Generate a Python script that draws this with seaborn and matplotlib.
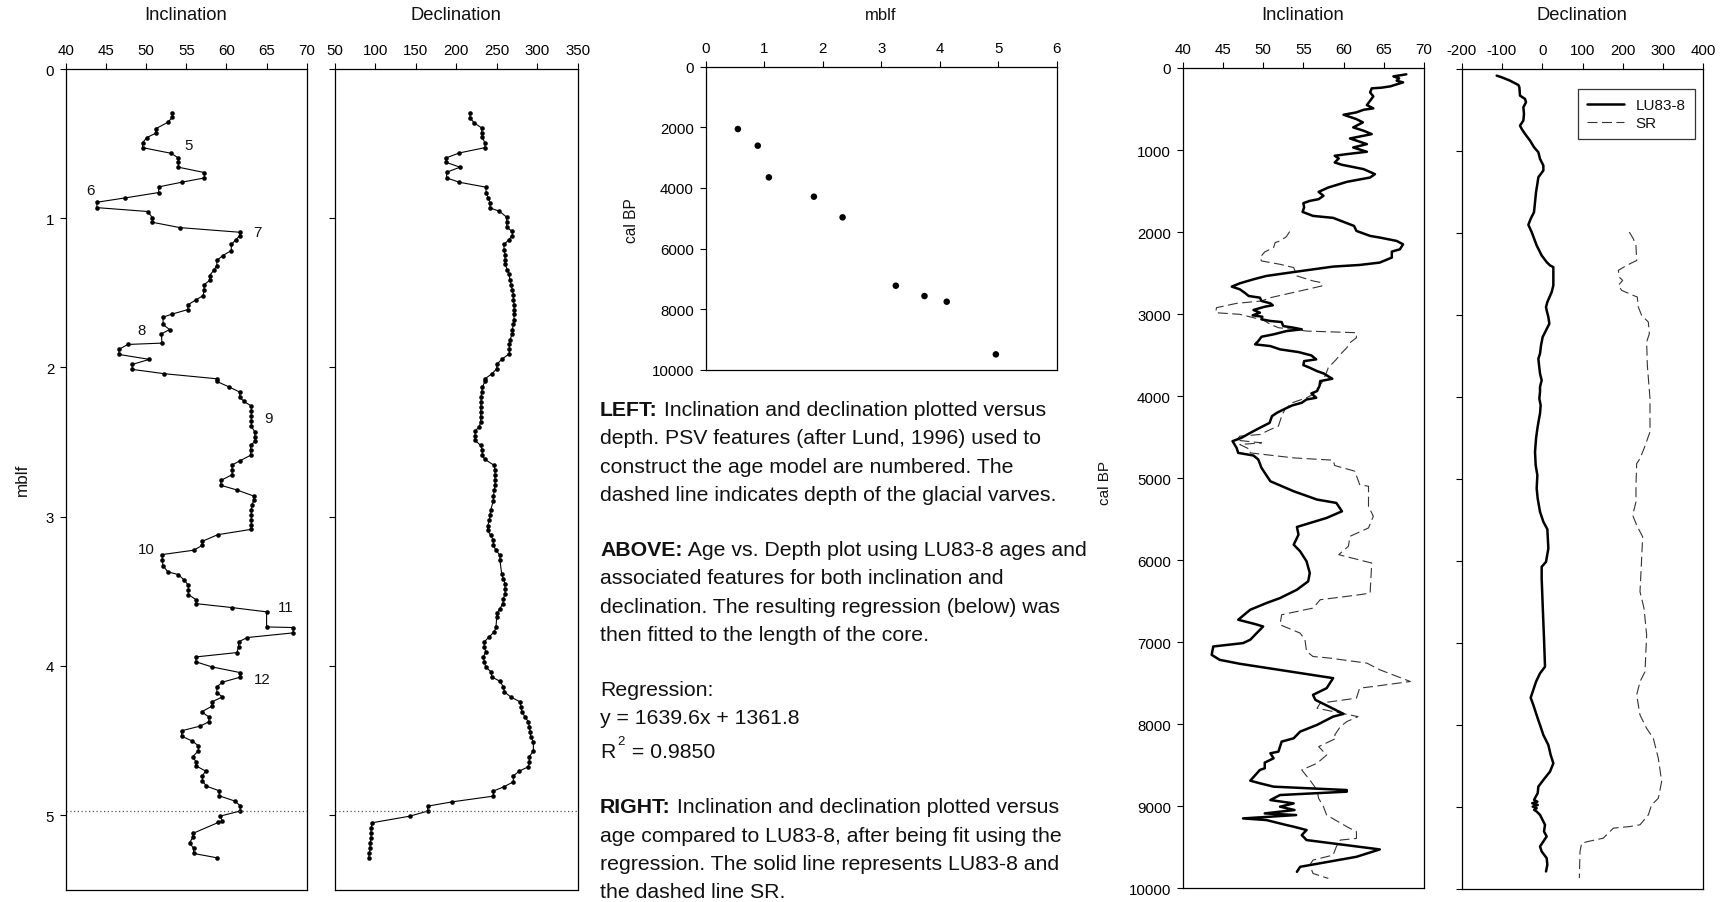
import matplotlib
matplotlib.use("Agg")
import matplotlib.pyplot as plt
from matplotlib.lines import Line2D
import seaborn as sns
import pandas as pd

# ---------------- data ----------------
# LEFT: inclination vs depth (mblf)
depth_incl = [0.295, 0.324, 0.357, 0.40, 0.43, 0.46, 0.495, 0.527, 0.565, 0.596, 0.625, 0.658, 0.694, 0.73,
              0.759, 0.79, 0.828, 0.864, 0.893, 0.929, 0.955, 0.996, 1.027, 1.063, 1.094, 1.116, 1.143, 1.176,
              1.217, 1.25, 1.283, 1.317, 1.35, 1.384, 1.417, 1.446, 1.484, 1.518, 1.547, 1.58, 1.612, 1.643,
              1.663, 1.712, 1.746, 1.775, 1.837, 1.846, 1.879, 1.913, 1.946, 1.98, 2.013, 2.042, 2.076, 2.094,
              2.13, 2.165, 2.199, 2.228, 2.259, 2.292, 2.326, 2.36, 2.393, 2.43, 2.464, 2.496, 2.522, 2.556,
              2.589, 2.625, 2.654, 2.688, 2.719, 2.757, 2.79, 2.821, 2.862, 2.891, 2.92, 2.953, 2.987, 3.022,
              3.054, 3.085, 3.121, 3.165, 3.192, 3.225, 3.254, 3.292, 3.33, 3.37, 3.388, 3.426, 3.46, 3.493,
              3.522, 3.556, 3.583, 3.609, 3.638, 3.739, 3.743, 3.779, 3.810, 3.839, 3.873, 3.911, 3.94, 3.973,
              4.007, 4.045, 4.076, 4.109, 4.141, 4.179, 4.208, 4.241, 4.27, 4.308, 4.342, 4.375, 4.404, 4.435,
              4.471, 4.504, 4.536, 4.569, 4.609, 4.643, 4.670, 4.705, 4.737, 4.770, 4.806, 4.837, 4.871, 4.906,
              4.937, 4.973, 5.007, 5.04, 5.049, 5.123, 5.15, 5.185, 5.223, 5.257, 5.286]
incl_values = [53.25, 53.25, 52.7, 51.2, 51.2, 50.05, 49.55, 49.55, 53.1, 54.0, 54.0, 54.0, 57.25, 57.25,
               54.4, 51.55, 51.55, 47.35, 43.85, 43.85, 50.2, 50.75, 50.75, 54.2, 61.65, 61.65, 61.2, 60.6,
               60.6, 59.55, 58.8, 58.8, 58.4, 57.9, 57.9, 57.2, 57.2, 57.1, 56.2, 55.2, 55.2, 53.2,
               52.1, 52.1, 52.9, 51.9, 51.95, 47.7, 46.6, 46.6, 50.4, 48.25, 48.25, 52.25, 58.8, 58.8,
               60.3, 61.65, 61.65, 62.2, 63.1, 63.1, 63.1, 63.1, 63.1, 63.5, 63.55, 63.55, 63.0, 63.0,
               63.0, 61.7, 60.7, 60.7, 60.7, 59.3, 59.3, 61.3, 63.4, 63.4, 63.2, 63.1, 63.1, 63.1,
               63.1, 63.1, 58.9, 57.0, 57.0, 55.9, 52.0, 52.0, 52.1, 52.7, 54.0, 54.75, 55.25, 55.25,
               55.25, 56.2, 56.2, 60.65, 65.0, 65.0, 68.3, 68.3, 62.6, 61.5, 61.5, 61.3, 56.2, 56.2,
               58.2, 61.7, 61.7, 59.5, 58.8, 58.8, 59.5, 58.2, 58.2, 56.9, 57.8, 57.8, 56.7, 54.4,
               54.4, 55.75, 56.5, 56.5, 55.8, 56.2, 56.2, 57.4, 57.0, 57.0, 57.5, 59.1, 59.1, 61.05,
               61.7, 61.7, 59.2, 59.5, 59.0, 55.8, 55.8, 55.4, 55.9, 55.9, 58.8]

# LEFT: declination vs depth (mblf)
depth_decl = [0.295, 0.328, 0.362, 0.395, 0.429, 0.458, 0.496, 0.527, 0.5625, 0.596, 0.625, 0.658, 0.692, 0.73,
              0.759, 0.792, 0.83, 0.864, 0.897, 0.931, 0.953, 0.993, 1.027, 1.06, 1.089, 1.116, 1.143, 1.176,
              1.21, 1.246, 1.277, 1.31, 1.344, 1.377, 1.413, 1.446, 1.48, 1.513, 1.547, 1.58, 1.612, 1.645,
              1.679, 1.712, 1.746, 1.777, 1.813, 1.844, 1.875, 1.908, 1.946, 1.98, 2.009, 2.042, 2.076, 2.094,
              2.132, 2.165, 2.199, 2.232, 2.266, 2.299, 2.333, 2.366, 2.4, 2.426, 2.46, 2.489, 2.522, 2.556,
              2.589, 2.616, 2.656, 2.69, 2.723, 2.757, 2.79, 2.824, 2.862, 2.893, 2.958, 2.991, 3.025, 3.062,
              3.092, 3.125, 3.158, 3.192, 3.225, 3.259, 3.292, 3.382, 3.415, 3.449, 3.482, 3.516, 3.549, 3.583,
              3.616, 3.643, 3.672, 3.739, 3.772, 3.806, 3.839, 3.873, 3.906, 3.94, 3.973, 4.007, 4.04, 4.074,
              4.103, 4.141, 4.174, 4.208, 4.241, 4.275, 4.308, 4.342, 4.375, 4.408, 4.442, 4.475, 4.509, 4.569,
              4.609, 4.643, 4.676, 4.705, 4.737, 4.777, 4.810, 4.839, 4.873, 4.911, 4.940, 4.973, 5.007, 5.051,
              5.089, 5.123, 5.156, 5.19, 5.223, 5.257, 5.286]
decl_values = [216.9, 216.9, 222.3, 231.3, 231.3, 232.1, 235.4, 235.4, 203.7, 187.2, 187.2, 204.5, 188.0, 188.0,
               203.7, 236.7, 236.7, 239.6, 241.6, 241.6, 253.2, 262.2, 262.2, 262.2, 269.2, 269.2, 265.1, 258.9,
               258.9, 260.2, 260.2, 260.2, 263.0, 265.1, 266.3, 267.6, 269.2, 270.5, 270.5, 271.3, 271.3, 271.3,
               271.3, 270.5, 269.2, 269.2, 266.3, 265.5, 265.5, 265.5, 256.0, 249.9, 249.9, 244.1, 235.4, 235.4,
               232.1, 231.3, 230.5, 230.5, 230.1, 230.1, 230.1, 230.1, 228.0, 223.1, 223.1, 223.1, 230.1, 232.1,
               232.1, 235.4, 246.6, 247.8, 247.8, 247.8, 247.8, 247.0, 245.7, 245.7, 242.4, 241.6, 240.8, 238.7,
               238.7, 242.4, 245.7, 245.7, 249.0, 253.9, 253.9, 256.0, 258.1, 260.2, 260.2, 260.2, 258.1, 257.3,
               253.9, 250.7, 249.9, 249.0, 247.0, 240.4, 234.6, 234.6, 236.3, 233.4, 234.6, 236.3, 242.9, 243.7,
               253.9, 258.1, 259.3, 267.2, 278.7, 279.9, 280.8, 284.9, 289.0, 290.2, 291.1, 291.9, 295.2, 295.2,
               290.2, 290.2, 289.0, 277.9, 270.5, 270.5, 258.9, 245.7, 245.7, 195.1, 164.6, 164.6, 142.7, 96.2,
               94.5, 94.5, 94.5, 93.3, 93.3, 92.4, 91.6]

VARVE_DEPTH = 4.97
feature_labels = ["5", "6", "7", "8", "9", "10", "11", "12"]
feature_incl = [55.25, 43.0, 63.8, 49.4, 65.3, 50.05, 67.4, 64.5]
feature_depth = [0.51, 0.81, 1.09, 1.75, 2.34, 3.22, 3.605, 4.09]

# ABOVE: age vs depth tie points
core_depth = [0.55, 0.89, 1.08, 1.85, 2.34, 3.25, 3.74, 4.12, 4.96]
core_age = [2057, 2607, 3652, 4290, 4972, 7228, 7569, 7756, 9494]

# RIGHT: inclination vs age
lu_inc_age = [77, 102, 126, 155, 175, 224, 240, 248, 297, 346, 399, 452, 492, 509, 541, 570, 623, 663, 724, 765,
              806, 859, 928, 969, 1021, 1050, 1070, 1103, 1152, 1180, 1233, 1294, 1335, 1388, 1457, 1510, 1558,
              1599, 1620, 1648, 1701, 1754, 1803, 1827, 1892, 1925, 1986, 2047, 2067, 2108, 2149, 2210, 2238,
              2311, 2372, 2401, 2421, 2482, 2535, 2576, 2625, 2665, 2698, 2739, 2779, 2800, 2840, 2869, 2893,
              2910, 2950, 2983, 3015, 3032, 3064, 3084, 3097, 3146, 3166, 3186, 3207, 3247, 3276, 3329, 3369,
              3390, 3430, 3463, 3504, 3552, 3573, 3622, 3654, 3695, 3723, 3788, 3817, 3878, 3939, 3967, 4020,
              4041, 4081, 4114, 4155, 4204, 4244, 4326, 4386, 4448, 4509, 4549, 4631, 4692, 4724, 4773, 4875,
              5038, 5160, 5261, 5302, 5404, 5485, 5595, 5689, 5811, 5892, 6014, 6157, 6258, 6360, 6462, 6523,
              6604, 6726, 6779, 6808, 6869, 6970, 7011, 7052, 7154, 7215, 7263, 7438, 7560, 7642, 7703, 7874,
              7907, 8008, 8090, 8171, 8212, 8334, 8354, 8415, 8468, 8537, 8557, 8688, 8720, 8761, 8802, 8822,
              8863, 8924, 8965, 9005, 9046, 9087, 9107, 9148, 9168, 9229, 9249, 9290, 9351, 9412, 9526, 9616,
              9738, 9799]
lu_inc = [67.8, 66.2, 66.9, 66.6, 67.4, 65.8, 64.7, 63.5, 63.3, 63.7, 63.3, 62.9, 63.7, 62.5, 61.6, 60.0, 61.6,
          62.4, 61.2, 62.5, 63.5, 60.8, 62.9, 61.2, 62.9, 60.4, 58.9, 59.4, 58.9, 59.8, 62.5, 63.9, 63.3, 60.4,
          58.1, 56.9, 57.5, 56.9, 55.8, 55.0, 55.1, 54.9, 56.2, 58.7, 60.4, 61.3, 61.6, 63.3, 64.5, 66.6, 67.4,
          67.0, 66.0, 66.0, 64.5, 62.0, 58.7, 54.2, 50.4, 48.8, 47.1, 46.1, 47.1, 47.7, 48.2, 49.6, 49.8, 50.9,
          51.2, 50.2, 48.8, 49.6, 48.7, 49.9, 49.8, 50.9, 52.3, 52.5, 53.8, 54.8, 52.9, 51.3, 49.8, 49.4, 49.0,
          50.9, 52.1, 54.4, 56.0, 56.6, 55.1, 55.0, 55.8, 56.7, 57.5, 58.6, 57.1, 57.0, 56.7, 56.0, 56.6, 55.4,
          54.8, 53.6, 52.7, 51.7, 51.1, 50.8, 49.6, 48.4, 47.3, 46.2, 46.7, 46.9, 48.8, 49.4, 49.8, 50.9, 53.8,
          56.7, 59.1, 59.8, 57.9, 54.2, 54.4, 53.8, 54.6, 55.4, 55.8, 55.6, 54.2, 52.1, 50.4, 48.4, 46.9, 49.0,
          50.0, 49.4, 48.4, 47.5, 43.8, 43.6, 44.6, 47.1, 58.7, 57.9, 56.2, 56.5, 60.0, 58.7, 56.7, 54.6, 53.8,
          52.3, 51.9, 50.9, 51.3, 50.2, 50.2, 49.6, 48.4, 49.6, 51.3, 60.4, 60.4, 52.1, 50.9, 53.8, 52.1, 53.9,
          50.2, 54.1, 47.5, 50.4, 52.9, 53.8, 55.4, 54.8, 55.4, 64.5, 61.6, 54.6, 54.2]

sr_inc_age = [1994, 2055, 2108, 2128, 2189, 2242, 2311, 2352, 2393, 2433, 2535, 2596, 2617, 2657, 2718, 2800,
              2840, 2869, 2922, 2983, 3003, 3044, 3072, 3125, 3166, 3186, 3207, 3227, 3288, 3349, 3410, 3491,
              3552, 3654, 3756, 3837, 3980, 4020, 4081, 4163, 4244, 4366, 4407, 4468, 4488, 4537, 4570, 4590,
              4651, 4692, 4753, 4781, 4846, 4915, 5078, 5099, 5343, 5465, 5607, 5709, 5831, 5933, 6035, 6401,
              6421, 6482, 6584, 6665, 6787, 6889, 6970, 7112, 7174, 7194, 7255, 7336, 7479, 7540, 7560, 7682,
              7743, 7805, 7907, 7968, 8029, 8131, 8171, 8273, 8375, 8476, 8557, 8679, 8802, 8903, 9005, 9107,
              9249, 9310, 9392, 9412, 9493, 9595, 9656, 9717, 9819, 9880]
sr_inc = [53.3, 52.9, 52.1, 51.5, 51.3, 50.2, 49.6, 49.8, 52.1, 53.8, 54.2, 56.2, 57.3, 57.3, 54.6, 50.9, 49.8,
          46.7, 44.2, 44.1, 47.1, 48.8, 50.0, 50.9, 51.9, 53.8, 55.4, 61.6, 61.6, 60.8, 60.4, 59.6, 59.1, 58.1,
          57.7, 57.3, 56.2, 55.4, 53.6, 52.7, 52.3, 51.9, 50.9, 49.6, 47.1, 46.7, 49.8, 47.1, 48.4, 48.4, 53.8,
          58.7, 58.9, 61.4, 62.0, 63.1, 63.1, 63.7, 63.1, 60.8, 60.6, 59.4, 63.5, 63.3, 62.0, 57.1, 56.2, 52.3,
          52.1, 54.6, 55.2, 55.4, 56.2, 58.3, 62.9, 64.5, 68.3, 63.7, 62.0, 61.6, 57.1, 56.7, 61.8, 60.4, 59.6,
          58.9, 59.1, 56.9, 57.9, 56.7, 54.8, 55.8, 56.7, 56.9, 57.5, 57.9, 60.4, 61.6, 61.6, 59.6, 59.1, 58.7,
          56.2, 55.8, 56.2, 58.1]

# RIGHT: declination vs age
lu_dec_age = [81, 101, 142, 195, 223, 325, 365, 406, 467, 548, 629, 690, 731, 792, 873, 954, 1015, 1096, 1177,
              1238, 1320, 1401, 1502, 1624, 1746, 1827, 1900, 1989, 2152, 2274, 2355, 2395, 2416, 2639, 2720,
              2842, 2903, 2944, 3025, 3106, 3187, 3268, 3370, 3471, 3532, 3613, 3715, 3796, 3877, 3938, 4019,
              4101, 4202, 4263, 4385, 4507, 4669, 4832, 4953, 5116, 5238, 5400, 5522, 5612, 5847, 6010, 6071,
              6213, 6538, 6944, 7289, 7370, 7472, 7667, 7756, 7918, 8000, 8122, 8244, 8366, 8467, 8568, 8670,
              8751, 8832, 8913, 8935, 8954, 8975, 8995, 9014, 9035, 9055, 9096, 9136, 9217, 9298, 9359, 9420,
              9481, 9542, 9623, 9704, 9786]
lu_dec = [-113.1, -100.7, -80.0, -59.3, -56.8, -55.2, -42.7, -40.3, -46.9, -45.3, -46.9, -55.2, -51.0, -42.7,
          -30.3, -20.4, -9.6, -5.5, 2.8, 2.8, -9.6, -12.1, -15.4, -17.9, -20.4, -28.7, -34.5, -26.2, -13.8,
          -1.4, 11.0, 19.3, 27.6, 27.6, 23.5, 12.7, 9.4, 11.0, 15.2, 17.7, 9.4, 1.1, -3.0, -5.5, -9.6, -7.9,
          -5.5, -1.4, -5.5, -5.5, -7.2, -3.9, -5.5, -7.9, -12.1, -15.4, -17.9, -16.3, -12.1, -13.8, -11.3, -5.5,
          2.8, 12.7, 15.2, 9.4, -1.4, -1.4, 1.1, 4.4, 6.9, -5.5, -15.4, -28.7, -22.1, -11.3, -5.5, 2.8, 15.2,
          21.0, 27.6, 19.3, 2.8, -9.6, -11.3, -20.4, -12.0, -25.0, -11.0, -23.7, -13.8, -20.0, -13.8, -5.5,
          -1.4, 6.9, 4.4, 11.0, 2.8, -5.5, -1.4, 11.0, 12.7, 9.4]

sr_dec_age = [1989, 2071, 2152, 2335, 2395, 2456, 2538, 2578, 2639, 2700, 2761, 2781, 2903, 3004, 3086, 3228,
              3329, 3613, 4019, 4425, 4608, 4751, 4812, 5076, 5279, 5441, 5563, 5705, 5969, 6375, 6578, 6903,
              7350, 7472, 7634, 7878, 8041, 8163, 8406, 8690, 8893, 8974, 9096, 9217, 9238, 9258, 9319, 9380,
              9420, 9441, 9542, 9867]
sr_dec = [216.3, 226.2, 232.8, 234.5, 209.7, 189.0, 191.5, 199.7, 189.0, 197.3, 226.2, 236.1, 238.6, 246.9,
          263.5, 266.0, 259.3, 261.0, 267.6, 267.6, 254.4, 242.8, 234.5, 232.8, 232.8, 224.6, 234.5, 249.4,
          246.9, 242.8, 252.8, 259.3, 255.2, 242.8, 234.5, 242.8, 259.3, 275.9, 288.3, 296.6, 288.3, 271.7,
          263.5, 242.8, 217.9, 176.6, 164.1, 151.7, 114.5, 97.9, 93.8, 92.1]

# ---------------- style ----------------
sns.set_theme(style="ticks")
plt.rcParams["font.family"] = ["Liberation Sans", "DejaVu Sans"]
plt.rcParams.update({
    "axes.edgecolor": "black",
    "axes.linewidth": 0.9,
    "xtick.color": "black",
    "ytick.color": "black",
    "text.color": "#111111",
    "axes.unicode_minus": False,
})

W, H = 1726, 903
fig = plt.figure(figsize=(W / 100, H / 100), dpi=100)


def rect(x0, x1, y0, y1):
    return [x0 / W, 1 - y1 / H, (x1 - x0) / W, (y1 - y0) / H]


def style_axis(ax, show_ylabels=True):
    ax.xaxis.tick_top()
    ax.xaxis.set_label_position("top")
    ax.tick_params(axis="both", direction="out", length=4.5, width=0.8, labelsize=10.8, pad=4,
                   colors="black")
    ax.tick_params(axis="x", bottom=False, top=True)
    if not show_ylabels:
        ax.tick_params(axis="y", labelleft=False)
    for s in ax.spines.values():
        s.set_visible(True)
        s.set_color("black")
        s.set_linewidth(0.9)
    ax.set_xlabel("")
    ax.set_ylabel("")
    ax.grid(False)


TICK = 10.8
TITLE = 13.2

# ---- Left inclination ----
ax1 = fig.add_axes(rect(66, 306.7, 70, 890.7))
df1 = pd.DataFrame({"depth": depth_incl, "incl": incl_values})
sns.lineplot(data=df1, x="incl", y="depth", sort=False, estimator=None, ax=ax1, color="black",
             linewidth=0.8, marker="o", markersize=3.3, markeredgewidth=0)
ax1.axhline(VARVE_DEPTH, color="#555555", linestyle=(0, (1, 2)), linewidth=0.9)
for lab, xi, yi in zip(feature_labels, feature_incl, feature_depth):
    ax1.text(xi, yi, lab, fontsize=TICK, ha="center", va="center")
ax1.set_xlim(40, 70)
ax1.set_ylim(5.5, 0)
ax1.set_xticks(range(40, 71, 5))
ax1.set_yticks(range(0, 6))
style_axis(ax1)

# ---- Left declination ----
ax2 = fig.add_axes(rect(335, 577.7, 70, 890.7))
df2 = pd.DataFrame({"depth": depth_decl, "decl": decl_values})
sns.lineplot(data=df2, x="decl", y="depth", sort=False, estimator=None, ax=ax2, color="black",
             linewidth=0.8, marker="o", markersize=3.3, markeredgewidth=0)
ax2.axhline(VARVE_DEPTH, color="#555555", linestyle=(0, (1, 2)), linewidth=0.9)
ax2.set_xlim(50, 350)
ax2.set_ylim(5.5, 0)
ax2.set_xticks(range(50, 351, 50))
ax2.set_yticks(range(0, 6))
style_axis(ax2, show_ylabels=False)

# ---- Age vs depth scatter ----
ax3 = fig.add_axes(rect(705.7, 1056.7, 67.7, 370.7))
df3 = pd.DataFrame({"depth": core_depth, "age": core_age})
sns.scatterplot(data=df3, x="depth", y="age", ax=ax3, color="black", s=22, edgecolor="none")
ax3.set_xlim(0, 6)
ax3.set_ylim(10000, 0)
ax3.set_xticks(range(0, 7))
ax3.set_yticks(range(0, 10001, 2000))
style_axis(ax3)

# ---- Right inclination ----
ax4 = fig.add_axes(rect(1182.7, 1424, 69, 889.3))
sns.lineplot(x=sr_inc, y=sr_inc_age, sort=False, estimator=None, ax=ax4, color="#333333",
             linewidth=0.8, linestyle=(0, (9, 4)))
sns.lineplot(x=lu_inc, y=lu_inc_age, sort=False, estimator=None, ax=ax4, color="black", linewidth=1.8)
ax4.set_xlim(40, 70)
ax4.set_ylim(10000, 0)
ax4.set_xticks(range(40, 71, 5))
ax4.set_yticks(range(0, 10001, 1000))
style_axis(ax4)

# ---- Right declination ----
ax5 = fig.add_axes(rect(1461.7, 1703.3, 70, 890))
sns.lineplot(x=sr_dec, y=sr_dec_age, sort=False, estimator=None, ax=ax5, color="#333333",
             linewidth=0.8, linestyle=(0, (9, 4)))
sns.lineplot(x=lu_dec, y=lu_dec_age, sort=False, estimator=None, ax=ax5, color="black", linewidth=1.8)
ax5.set_xlim(-200, 400)
ax5.set_ylim(10000, 0)
ax5.set_xticks(range(-200, 401, 100))
ax5.set_yticks(range(0, 10001, 1000))
style_axis(ax5, show_ylabels=False)
handles = [Line2D([], [], color="black", linewidth=1.8),
           Line2D([], [], color="#333333", linewidth=0.8, linestyle=(0, (9, 4)))]
leg = ax5.legend(handles, ["LU83-8", "SR"], loc="upper right",
                 bbox_to_anchor=((1695 - 1461.7) / 241.6, 1 - (90 - 70) / 820),
                 borderaxespad=0, fontsize=11, frameon=True, fancybox=False, handlelength=2.4,
                 borderpad=0.6, labelspacing=0.25)
leg.get_frame().set_edgecolor("black")
leg.get_frame().set_linewidth(0.9)

# ---- titles and axis labels ----
def ftext(x, y, s, **kw):
    return fig.text(x / W, 1 - y / H, s, **kw)

ftext(186, 16, "Inclination", fontsize=TITLE, ha="center", va="center")
ftext(456, 16, "Declination", fontsize=TITLE, ha="center", va="center")
ftext(881, 16, "mblf", fontsize=12, ha="center", va="center")
ftext(1303, 15, "Inclination", fontsize=TITLE, ha="center", va="center")
ftext(1582, 16, "Declination", fontsize=TITLE, ha="center", va="center")
ftext(22, 480, "mblf", fontsize=12.3, ha="center", va="center", rotation=90)
ftext(631, 221, "cal BP", fontsize=11.2, ha="center", va="center", rotation=90)
ftext(1105, 483, "cal BP", fontsize=11, ha="center", va="center", rotation=90)

# ---- caption text ----
FS = 15.3
X0 = 600
renderer = fig.canvas.get_renderer()


def mixed(y, bold, rest):
    t = ftext(X0, y, bold, fontsize=FS, fontweight="bold", va="baseline", ha="left")
    bb = t.get_window_extent(renderer=renderer)
    fig.text(bb.x1 / W, 1 - y / H, rest, fontsize=FS, va="baseline", ha="left")


def plain(y, s):
    ftext(X0, y, s, fontsize=FS, va="baseline", ha="left")


LS = 28.3
y = 416
mixed(y, "LEFT:", " Inclination and declination plotted versus")
plain(y + LS, "depth. PSV features (after Lund, 1996) used to")
plain(y + 2 * LS, "construct the age model are numbered. The")
plain(y + 3 * LS, "dashed line indicates depth of the glacial varves.")

y = 556
mixed(y, "ABOVE:", " Age vs. Depth plot using LU83-8 ages and")
plain(y + LS, "associated features for both inclination and")
plain(y + 2 * LS, "declination. The resulting regression (below) was")
plain(y + 3 * LS, "then fitted to the length of the core.")

plain(696, "Regression:")
plain(724.5, "y = 1639.6x + 1361.8")
tR = ftext(X0, 758, "R", fontsize=FS, va="baseline", ha="left")
bbR = tR.get_window_extent(renderer=renderer)
fig.text(bbR.x1 / W + 2 / W, 1 - 745 / H, "2", fontsize=9.5, va="baseline", ha="left")
fig.text(bbR.x1 / W + 11 / W, 1 - 758 / H, " = 0.9850", fontsize=FS, va="baseline", ha="left")

y = 813.5
mixed(y, "RIGHT:", " Inclination and declination plotted versus")
plain(y + LS, "age compared to LU83-8, after being fit using the")
plain(y + 2 * LS, "regression. The solid line represents LU83-8 and")
plain(y + 3 * LS, "the dashed line SR.")

fig.savefig("out.png", dpi=100)
